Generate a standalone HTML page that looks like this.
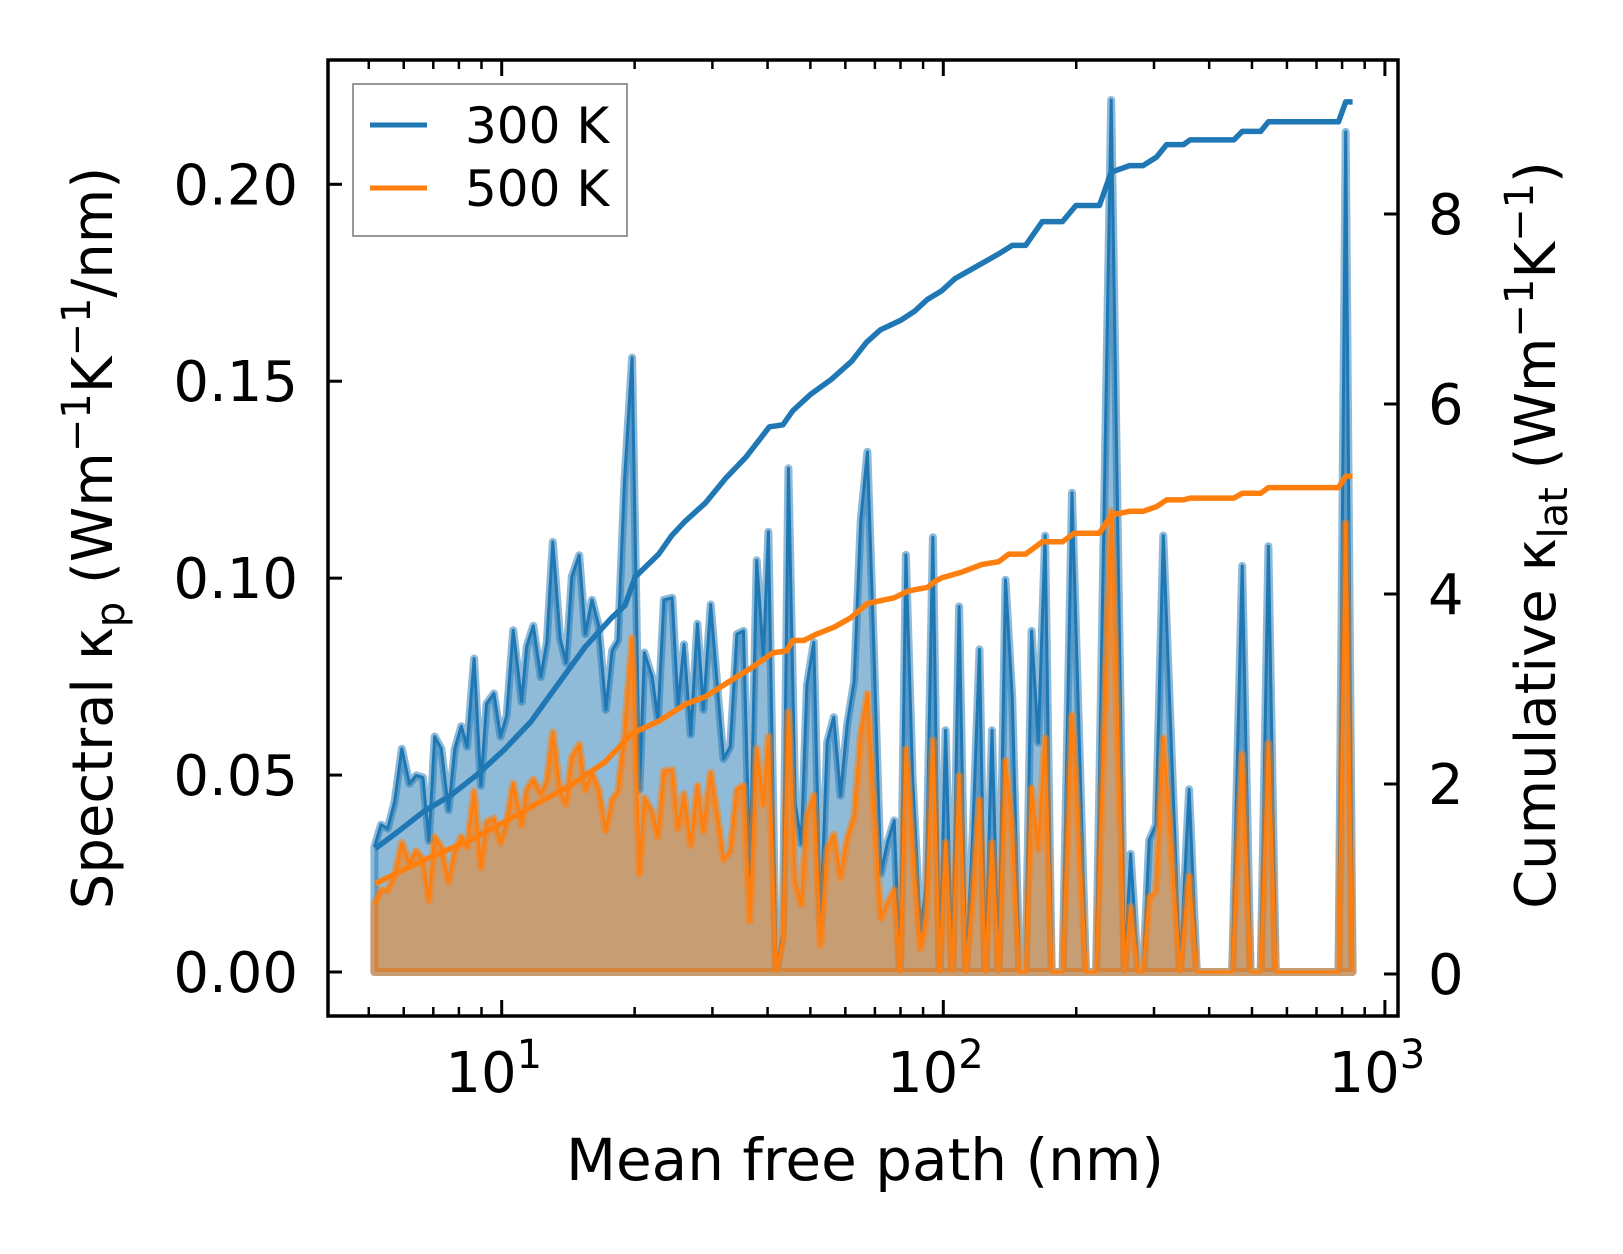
<!DOCTYPE html>
<html><head><meta charset="utf-8">
<style>
html,body{margin:0;padding:0;background:#fff;}
svg{display:block;font-family:"DejaVu Sans","Liberation Sans",sans-serif;}
</style></head>
<body>
<svg id="chart" width="1623" height="1254" viewBox="0 0 1623 1254" xmlns="http://www.w3.org/2000/svg">
<rect x="0" y="0" width="1623" height="1254" fill="#fff"/>
<g id="plot"></g>
<g id="axes"></g>
<text x="865" y="1180" font-size="58" text-anchor="middle">Mean free path (nm)</text>
<text transform="translate(112,538) rotate(-90)" font-size="56" text-anchor="middle">Spectral κ<tspan font-size="40" dy="12">p</tspan><tspan dy="-12"> (Wm</tspan><tspan font-size="40" dy="-22">−1</tspan><tspan dy="22">K</tspan><tspan font-size="40" dy="-22">−1</tspan><tspan dy="22">/nm)</tspan></text>
<text transform="translate(1555,535) rotate(-90)" font-size="56" text-anchor="middle">Cumulative κ<tspan font-size="40" dy="12">lat</tspan><tspan dy="-12"> (Wm</tspan><tspan font-size="40" dy="-22">−1</tspan><tspan dy="22">K</tspan><tspan font-size="40" dy="-22">−1</tspan><tspan dy="22">)</tspan></text>
<g>
<rect x="353" y="84" width="274" height="152" fill="#fff" fill-opacity="0.8" stroke="#999" stroke-width="2"/>
<line x1="370" y1="125" x2="427" y2="125" stroke="#1f77b4" stroke-width="5"/>
<text x="465" y="143" font-size="50">300 K</text>
<line x1="370" y1="188" x2="427" y2="188" stroke="#ff7f0e" stroke-width="5"/>
<text x="465" y="206" font-size="50">500 K</text>
</g>
</svg>
<script>
// spectral data
const specX = [5.15,5.33,5.52,5.72,5.94,6.18,6.40,6.63,6.84,7.05,7.30,7.58,7.83,8.10,8.35,8.66,8.97,9.24,9.60,9.94,10.26,10.62,11.10,11.39,11.79,12.26,12.65,13.05,13.56,13.99,14.41,14.98,15.46,16.01,16.58,17.22,17.78,18.34,18.96,19.74,20.51,21.05,21.92,22.58,23.30,24.33,25.07,25.87,26.79,27.74,28.62,29.74,30.91,31.78,32.91,34.08,35.29,36.48,37.79,39.13,40.17,41.81,43.30,44.6,46.2,47.7,49.1,50.9,52.7,54.6,56.5,58.5,60.6,62.8,65.0,67.3,69.7,72.2,74.8,77.4,79.8,82.3,85.2,88.8,91.4,94.7,98.1,101.2,104.8,108.6,112.5,116.5,120.8,124.5,128.9,133.5,138.3,143.2,148.8,153.6,158.5,164.1,170.0,176.0,186.2,195.6,210.5,221.8,240.0,257.4,265.6,276.1,283.5,292.6,303.0,314.9,343.6,360.3,375.1,450.8,475.1,496.4,523.2,544.7,566.2,785.0,815.0,845.0];
const spec300 = [.0317,.0374,.0364,.0432,.0567,.0478,.0499,.0494,.0333,.0598,.0567,.0411,.0567,.0624,.0572,.0796,.0473,.0681,.0707,.0598,.0650,.0868,.0686,.0827,.0879,.0749,.0837,.1092,.0848,.0785,.1004,.1058,.0858,.0945,.0879,.0666,.0816,.0842,.1243,.1560,.0463,.0811,.0749,.0640,.0945,.0950,.0676,.0832,.0603,.0884,.0666,.0933,.0702,.0541,.0572,.0858,.0866,.0244,.1045,.0796,.1118,0,.0099,.1279,.0430,.0326,.0728,.0837,.0122,.0584,.0647,.0448,.0629,.0738,.1145,.1321,.0800,.0249,.0330,.0385,0,.1059,.0493,.0104,.0222,.1104,0,.0614,0,.0928,0,.0343,.0819,0,.0614,0,.0996,.0699,0,0,.0866,.0583,.1108,0,0,.1217,0,0,.2214,0,.0300,0,0,.0335,.0374,.1108,0,.0464,0,0,.1031,0,0,.1081,0,0,.2133,0];
const spec500 = [.0172,.0208,.0208,.0244,.0328,.0276,.0307,.0286,.0182,.0343,.0317,.0229,.0307,.0343,.0317,.0458,.0265,.0380,.0390,.0328,.0380,.0478,.0374,.0463,.0489,.0452,.0484,.0608,.0458,.0426,.0546,.0577,.0463,.0504,.0463,.0359,.0437,.0458,.0600,.0848,.0250,.0442,.0406,.0343,.0510,.0513,.0364,.0452,.0322,.0473,.0359,.0506,.0385,.0286,.0307,.0463,.0473,.0130,.0567,.0426,.0598,0,.0080,.0660,.0231,.0172,.0394,.0448,.0068,.0312,.0348,.0240,.0339,.0394,.0602,.0706,.0403,.0136,.0176,.0208,0,.0566,.0312,.0059,.0131,.0588,0,.0328,0,.0498,0,.0189,.0436,0,.0328,0,.0536,.0359,0,0,.0467,.0312,.0594,0,0,.0652,0,0,.1170,0,.0165,0,0,.0189,.0204,.0594,0,.0243,0,0,.0552,0,0,.0580,0,0,.1139,0];
// cumulative data
const cum300X = [5.17,5.79,6.66,7.66,8.81,10.13,11.66,13.41,15.43,17.74,19.02,20.06,22.67,24.31,26.08,28.95,32.17,35.73,40.38,43.3,45.65,50,55.8,62,67,72,80,86.3,92,99.1,106.3,118.1,133.5,143.2,153.6,167.6,186.2,199.7,225.7,240,264.2,283.5,304.1,320.3,349.8,362.2,454.8,475.1,523.2,544.7,785,815,845];
const cum300 = [1.32,1.49,1.71,1.88,2.10,2.36,2.66,3.05,3.44,3.75,3.88,4.18,4.42,4.62,4.77,4.96,5.22,5.44,5.76,5.78,5.93,6.10,6.26,6.45,6.65,6.78,6.88,6.98,7.10,7.19,7.32,7.44,7.58,7.67,7.67,7.92,7.92,8.09,8.09,8.44,8.51,8.51,8.60,8.73,8.73,8.78,8.78,8.87,8.87,8.97,8.97,9.18,9.18];
const cum500X = [5.17,6.0,7.14,8.51,10.13,12.07,14.38,17.13,19.71,22.67,26.08,28.95,33.31,37.0,41.1,44.1,45.65,48.3,51.8,56.5,61.7,67.3,77.4,83.1,92.2,95.5,99.1,110.1,122.3,133.5,140.7,153.6,167.6,186.2,198,225.7,240,264.2,283.5,304.1,320.3,349.8,362.2,454.8,475.1,523.2,544.7,785,815,845];
const cum500 = [.95,1.10,1.26,1.41,1.60,1.80,1.99,2.23,2.53,2.66,2.84,2.92,3.10,3.23,3.38,3.40,3.51,3.51,3.58,3.65,3.75,3.90,3.96,4.03,4.07,4.13,4.17,4.23,4.31,4.34,4.42,4.42,4.55,4.55,4.64,4.64,4.83,4.87,4.87,4.92,4.99,4.99,5.01,5.01,5.06,5.06,5.12,5.12,5.24,5.24];
// ticks
const leftTicks = [0,0.05,0.10,0.15,0.20];
const leftTickLabels = ["0.00","0.05","0.10","0.15","0.20"];
const rightTicks = [0,2,4,6,8];
const rightTickLabels = ["0","2","4","6","8"];
const xMajor = [10,100,1000];
const xMajorExp = ["1","2","3"];
const xMinor = [5,6,7,8,9,20,30,40,50,60,70,80,90,200,300,400,500,600,700,800,900];

const NS = "http://www.w3.org/2000/svg";
const L = 328, R = 1398, T = 60, B = 1016;
function X(v){ return 501.7 + 441.6*(Math.log10(v)-1); }
function YL(v){ return 972 - v*3938.5; }
function YR(v){ return 974 - v*95; }
function mk(tag, attrs, parent){
  const e = document.createElementNS(NS, tag);
  for (const k in attrs) e.setAttribute(k, attrs[k]);
  parent.appendChild(e);
  return e;
}
const plot = document.getElementById('plot');
const axes = document.getElementById('axes');

function specPaths(vals){
  let line = '';
  for (let i=0;i<specX.length;i++){
    line += (i?'L':'M') + X(specX[i]).toFixed(1) + ',' + YL(vals[i]).toFixed(1);
  }
  const x0 = X(specX[0]).toFixed(1), x1 = X(specX[specX.length-1]).toFixed(1);
  const area = line + 'L' + x1 + ',' + YL(0) + 'L' + x0 + ',' + YL(0) + 'Z';
  return {line, area};
}
function drawSpec(vals, color, nm){
  const p = specPaths(vals);
  const a = mk('path', {d:p.area, fill:color, 'fill-opacity':0.5, stroke:color, 'stroke-opacity':0.5, 'stroke-width':8, 'stroke-linejoin':'round'}, plot);
  
  
  const l = mk('path', {d:p.line, fill:'none', stroke:color, 'stroke-width':3, 'stroke-linejoin':'round'}, plot);
  
  
}
drawSpec(spec300, '#1f77b4', 'series-300k');
drawSpec(spec500, '#ff7f0e', 'series-500k');

function drawCum(xs, vals, color, nm){
  let d='';
  for (let i=0;i<xs.length;i++) d += (i?'L':'M') + X(xs[i]).toFixed(1) + ',' + YR(vals[i]).toFixed(1);
  const c = mk('path', {d:d, fill:'none', stroke:color, 'stroke-width':5.5, 'stroke-linejoin':'round'}, plot);
  
  
}
drawCum(cum300X, cum300, '#1f77b4', 'series-300k');
drawCum(cum500X, cum500, '#ff7f0e', 'series-500k');

// frame
const frame = mk('rect', {x:L, y:T, width:R-L, height:B-T, fill:'none', stroke:'#000', 'stroke-width':3.5}, axes);



leftTicks.forEach((v,i)=>{
  const y = YL(v);
  const t = mk('line', {x1:L, x2:L+14, y1:y, y2:y, stroke:'#000', 'stroke-width':3}, axes);
  
  
  const tx = mk('text', {x:298, y:y+20, 'font-size':56, 'text-anchor':'end'}, axes);
  tx.textContent = leftTickLabels[i];
  
  
});
rightTicks.forEach((v,i)=>{
  const y = YR(v);
  const t = mk('line', {x1:R-14, x2:R, y1:y, y2:y, stroke:'#000', 'stroke-width':3}, axes);
  
  
  const tx = mk('text', {x:1428, y:y+20, 'font-size':56}, axes);
  tx.textContent = rightTickLabels[i];
  
  
});
xMajor.forEach((v,i)=>{
  const x = X(v);
  const t1 = mk('line', {x1:x, x2:x, y1:B, y2:B-16, stroke:'#000', 'stroke-width':3}, axes);
  
  
  const t2 = mk('line', {x1:x, x2:x, y1:T, y2:T+16, stroke:'#000', 'stroke-width':3}, axes);
  
  
  const tx = mk('text', {x:x-8, y:1092, 'font-size':56, 'text-anchor':'middle'}, axes);
  
  
  tx.appendChild(document.createTextNode('10'));
  const sp = mk('tspan', {'font-size':40, dy:-24}, tx);
  sp.textContent = xMajorExp[i];
});
xMinor.forEach(v=>{
  const x = X(v);
  const t1 = mk('line', {x1:x, x2:x, y1:B, y2:B-9, stroke:'#000', 'stroke-width':2.5}, axes);
  
  
  const t2 = mk('line', {x1:x, x2:x, y1:T, y2:T+9, stroke:'#000', 'stroke-width':2.5}, axes);
  
  
});
</script>
</body></html>
